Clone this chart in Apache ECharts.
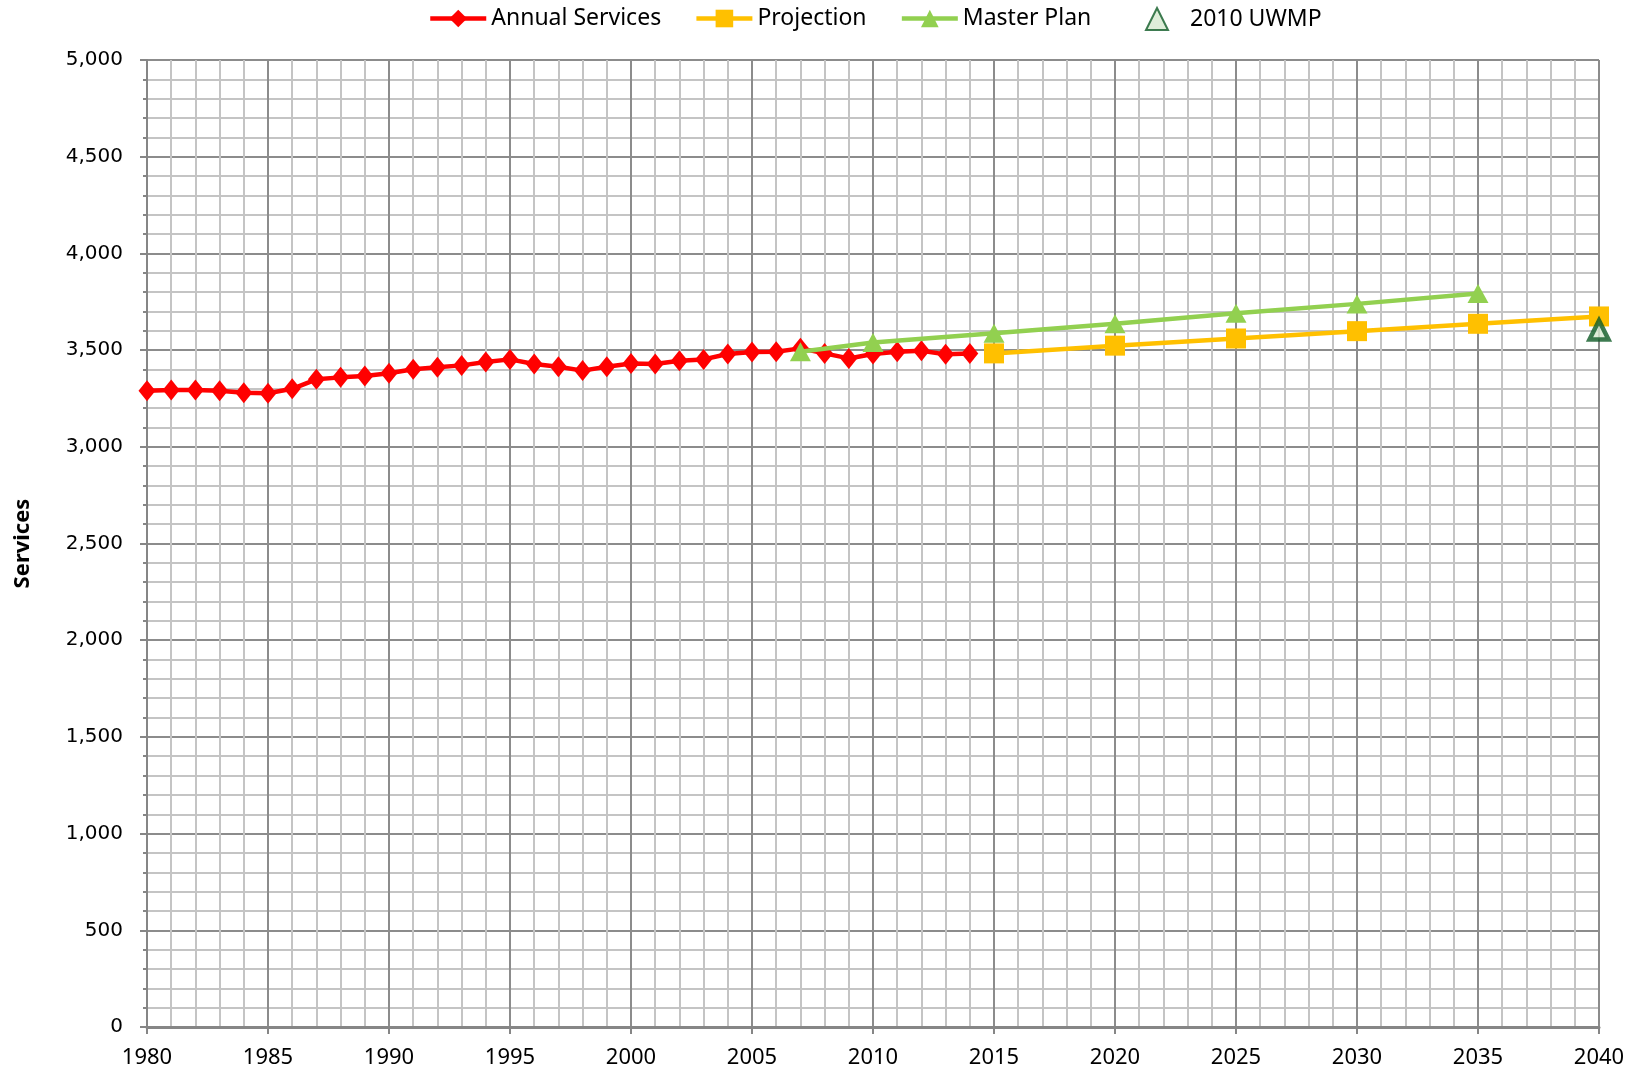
<!DOCTYPE html>
<html lang="en">
<head>
    <meta charset="UTF-8">
    <title>Services</title>
    <script src="https://cdn.jsdelivr.net/npm/echarts@6/dist/echarts.min.js"></script>
    <style>
        html, body { margin: 0; padding: 0; background: #fff; }
    </style>
</head>
<body>
    <div id="main" style="width: 1642px; height: 1078px;"></div>
    <script>
    // annual services counts, 1980 - 2014
    const annualYears = [1980, 1981, 1982, 1983, 1984, 1985, 1986, 1987, 1988, 1989,
        1990, 1991, 1992, 1993, 1994, 1995, 1996, 1997, 1998, 1999,
        2000, 2001, 2002, 2003, 2004, 2005, 2006, 2007, 2008, 2009,
        2010, 2011, 2012, 2013, 2014]
    const annualValues = [3290, 3294, 3294, 3290, 3280, 3277, 3300, 3349, 3359, 3366,
        3380, 3401, 3411, 3421, 3438, 3452, 3428, 3414, 3394, 3414,
        3431, 3428, 3445, 3452, 3480, 3490, 3492, 3509, 3483, 3457,
        3480, 3492, 3497, 3478, 3483]

    const projectionYears = [2015, 2020, 2025, 2030, 2035, 2040]
    const projectionValues = [3483, 3523, 3560, 3598, 3636, 3674]

    const masterYears = [2007, 2010, 2015, 2020, 2025, 2030, 2035]
    const masterValues = [3492, 3539, 3587, 3636, 3690, 3739, 3793]

    const uwmpYears = [2040]
    const uwmpValues = [3604]

    function pairs(xs, ys) {
        return xs.map(function (x, i) { return [x, ys[i]] })
    }

    const legendText = {
        fontFamily: 'Noto Sans',
        fontSize: 23,
        color: '#000'
    }

    const myChart = echarts.init(document.getElementById('main'))

    const option = {
        backgroundColor: '#ffffff',
        animation: false,
        legend: [
            {
                top: 2,
                left: 423,
                itemWidth: 56,
                itemHeight: 22,
                itemGap: 33,
                lineStyle: { width: 4.5 },
                textStyle: legendText,
                data: ['Annual Services', 'Projection', 'Master Plan']
            },
            {
                // the UWMP entry sits a bit further to the right
                top: 2,
                left: 1140,
                itemWidth: 56,
                itemHeight: 22,
                symbolKeepAspect: true,
                textStyle: legendText,
                data: [{ name: '2010 UWMP', icon: 'path://M10,0L20,20L0,20Z' }]
            }
        ],
        grid: {
            left: 147,
            right: 43,
            top: 60,
            bottom: 51
        },
        xAxis: {
            type: 'value',
            min: 1980,
            max: 2040,
            interval: 5,
            axisLine: { lineStyle: { color: '#868686', width: 3 } },
            axisTick: { show: true, length: 7, lineStyle: { color: '#868686', width: 2 } },
            minorTick: { show: false, splitNumber: 5 },
            axisLabel: {
                margin: 20,
                fontFamily: 'Noto Sans',
                fontSize: 22,
                color: '#000',
                formatter: function (v) { return String(v) }
            },
            splitLine: { show: true, lineStyle: { color: '#8c8c8c', width: 2 } },
            minorSplitLine: { show: true, lineStyle: { color: '#c4c4c4', width: 2 } }
        },
        yAxis: {
            type: 'value',
            min: 0,
            max: 5000,
            interval: 500,
            name: 'Services',
            nameLocation: 'middle',
            nameGap: 113,
            nameTextStyle: {
                fontFamily: 'Noto Sans',
                fontWeight: 'bold',
                fontSize: 22,
                color: '#000'
            },
            axisLine: { show: true, lineStyle: { color: '#868686', width: 2 } },
            axisTick: { show: true, length: 7, lineStyle: { color: '#868686', width: 2 } },
            minorTick: { show: true, splitNumber: 5, length: 4, lineStyle: { color: '#868686', width: 2 } },
            axisLabel: {
                margin: 24,
                fontFamily: 'DejaVu Sans',
                fontSize: 20,
                color: '#000',
                formatter: function (v) { return v.toLocaleString('en-US') }
            },
            splitLine: { show: true, lineStyle: { color: '#8c8c8c', width: 2 } },
            minorSplitLine: { show: true, lineStyle: { color: '#c4c4c4', width: 2 } }
        },
        series: [
            {
                name: 'Annual Services',
                type: 'line',
                data: pairs(annualYears, annualValues),
                symbol: 'diamond',
                symbolSize: [17, 21],
                color: '#ff0000',
                lineStyle: { color: '#ff0000', width: 4.5 },
                itemStyle: { color: '#ff0000' },
                z: 2
            },
            {
                name: 'Projection',
                type: 'line',
                data: pairs(projectionYears, projectionValues),
                symbol: 'square',
                symbolSize: 20,
                color: '#ffc000',
                lineStyle: { color: '#ffc000', width: 4.5 },
                itemStyle: { color: '#ffc000' },
                z: 3
            },
            {
                name: 'Master Plan',
                type: 'line',
                data: pairs(masterYears, masterValues),
                symbol: 'triangle',
                symbolSize: [21, 19],
                color: '#92d050',
                lineStyle: { color: '#92d050', width: 4.5 },
                itemStyle: { color: '#92d050' },
                z: 4
            },
            {
                name: '2010 UWMP',
                type: 'scatter',
                data: pairs(uwmpYears, uwmpValues),
                symbol: 'triangle',
                symbolSize: [19, 19],
                itemStyle: {
                    color: '#d6e9cf',
                    borderColor: '#0e5a26',
                    borderWidth: 4.5
                },
                z: 5
            }
        ]
    }
    myChart.setOption(option)
    </script>
</body>
</html>
